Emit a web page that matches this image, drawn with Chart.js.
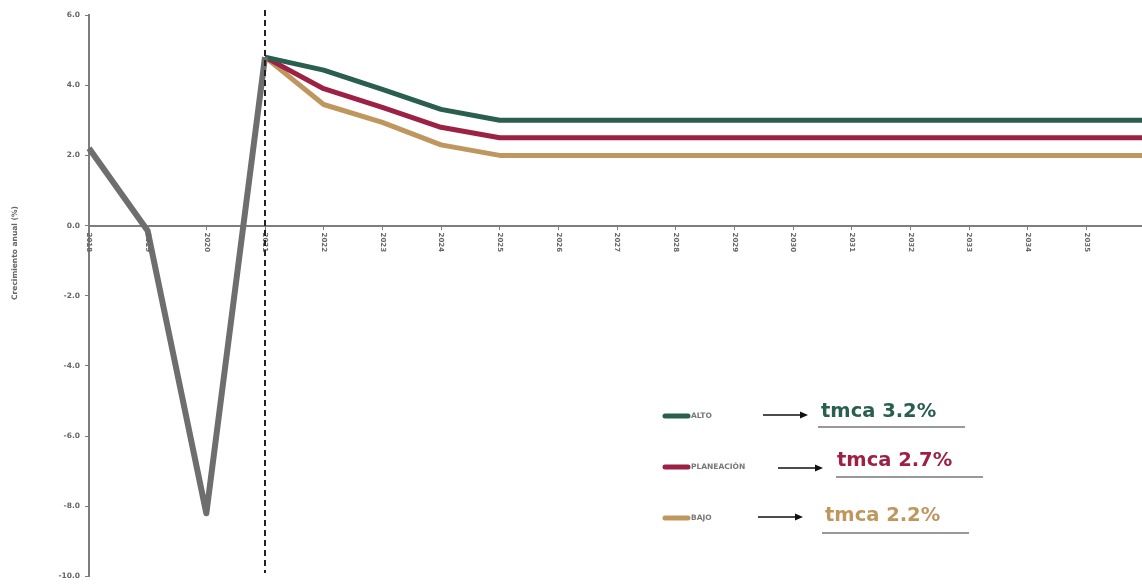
<!DOCTYPE html>
<html>
<head>
<meta charset="utf-8">
<script src="https://cdn.jsdelivr.net/npm/chart.js@4.4.1/dist/chart.umd.min.js"></script>
<style>
  html, body { margin: 0; padding: 0; background: #fff; overflow: hidden; }
  #wrap { width: 1160px; height: 586px; position: relative; }
</style>
</head>
<body>
<div id="wrap"><canvas id="Chart1"></canvas></div>
<script>
// years on the x axis
const years = ['2018', '2019', '2020', '2021', '2022', '2023', '2024', '2025', '2026', '2027',
    '2028', '2029', '2030', '2031', '2032', '2033', '2034', '2035', '2036'];
// observed growth
const historico = [2.2, -0.15, -8.2, 4.8, null, null, null, null, null, null,
    null, null, null, null, null, null, null, null, null];
// scenarios
const alto = [null, null, null, 4.8, 4.43, 3.88, 3.31, 3.0, 3.0, 3.0,
    3.0, 3.0, 3.0, 3.0, 3.0, 3.0, 3.0, 3.0, 3.0];
const planeacion = [null, null, null, 4.8, 3.9, 3.37, 2.8, 2.5, 2.5, 2.5,
    2.5, 2.5, 2.5, 2.5, 2.5, 2.5, 2.5, 2.5, 2.5];
const bajo = [null, null, null, 4.8, 3.45, 2.94, 2.3, 2.0, 2.0, 2.0,
    2.0, 2.0, 2.0, 2.0, 2.0, 2.0, 2.0, 2.0, 2.0];
const yTicks = [6, 4, 2, 0, -2, -4, -6, -8, -10];
const tmca = ['tmca 3.2%', 'tmca 2.7%', 'tmca 2.2%'];
const scenarioNames = ['ALTO', 'PLANEACIÓN', 'BAJO'];
const splitYear = '2021';

const GREEN = '#2a5f4f';
const RED = '#9c2145';
const GOLD = '#bf975e';
const GREY = '#6e6e6e';
const AXIS = '#7d7d7d';

// vertical dashed line, rotated year labels, y title
const extras = {
    id: 'extras',
    afterDatasetsDraw(chart) {
        const ctx = chart.ctx;
        const x = chart.scales.x;
        const y = chart.scales.y;
        const y0 = y.getPixelForValue(0);

        ctx.save();
        // year labels, reading downwards
        ctx.fillStyle = '#666';
        ctx.font = 'bold 7px "DejaVu Sans"';
        ctx.textAlign = 'left';
        ctx.textBaseline = 'middle';
        years.forEach((yr, i) => {
            ctx.save();
            ctx.translate(x.getPixelForValue(i), y0 + 7);
            ctx.rotate(Math.PI / 2);
            ctx.fillText(yr, 0, 0);
            ctx.restore();
        });

        // split line
        const xs = x.getPixelForValue(years.indexOf(splitYear));
        ctx.strokeStyle = '#222';
        ctx.lineWidth = 2;
        ctx.setLineDash([6, 4]);
        ctx.beginPath();
        ctx.moveTo(xs, 10);
        ctx.lineTo(xs, 573);
        ctx.stroke();
        ctx.setLineDash([]);

        // y title
        ctx.save();
        ctx.translate(15, 253);
        ctx.rotate(-Math.PI / 2);
        ctx.textAlign = 'center';
        ctx.textBaseline = 'middle';
        ctx.fillStyle = '#666';
        ctx.font = 'bold 7.5px "DejaVu Sans"';
        ctx.fillText('Crecimiento anual (%)', 0, 0);
        ctx.restore();
        ctx.restore();
    }
};

// legend block with arrows and tmca notes
const notes = {
    id: 'notes',
    afterDraw(chart) {
        const ctx = chart.ctx;
        const colors = [GREEN, RED, GOLD];
        const rows = [
            {ly: 416, ax: 763, ay: 415, tx: 821, ty: 412, ux: 818, uy: 427},
            {ly: 467, ax: 778, ay: 468, tx: 837, ty: 461, ux: 836, uy: 477},
            {ly: 518, ax: 758, ay: 517, tx: 825, ty: 516, ux: 822, uy: 533},
        ];
        ctx.save();
        rows.forEach((r, i) => {
            ctx.strokeStyle = colors[i];
            ctx.lineWidth = 5;
            ctx.lineCap = 'round';
            ctx.beginPath();
            ctx.moveTo(665, r.ly);
            ctx.lineTo(688, r.ly);
            ctx.stroke();
            ctx.lineCap = 'butt';

            ctx.fillStyle = '#777';
            ctx.font = 'bold 7.5px "DejaVu Sans"';
            ctx.textAlign = 'left';
            ctx.textBaseline = 'middle';
            ctx.fillText(scenarioNames[i], 691, r.ly + 0.5);

            // arrow
            ctx.strokeStyle = '#111';
            ctx.fillStyle = '#111';
            ctx.lineWidth = 1.3;
            ctx.beginPath();
            ctx.moveTo(r.ax, r.ay);
            ctx.lineTo(r.ax + 38, r.ay);
            ctx.stroke();
            ctx.beginPath();
            ctx.moveTo(r.ax + 45, r.ay);
            ctx.lineTo(r.ax + 37, r.ay - 3.5);
            ctx.lineTo(r.ax + 37, r.ay + 3.5);
            ctx.closePath();
            ctx.fill();

            ctx.fillStyle = colors[i];
            ctx.font = 'bold 19.5px "DejaVu Sans"';
            ctx.fillText(tmca[i], r.tx, r.ty);

            ctx.strokeStyle = '#777';
            ctx.lineWidth = 1.5;
            ctx.beginPath();
            ctx.moveTo(r.ux, r.uy);
            ctx.lineTo(r.ux + 147, r.uy);
            ctx.stroke();
        });
        ctx.restore();
    }
};

const lineDs = (data, color, width) => ({
    data: data,
    borderColor: color,
    backgroundColor: color,
    borderWidth: width,
    borderJoinStyle: 'round',
    pointRadius: 0,
    tension: 0,
    spanGaps: false,
    fill: false,
});

const ctx1 = document.getElementById('Chart1').getContext('2d');
const chart1 = new Chart(ctx1, {
    type: 'line',
    data: {
        labels: years,
        datasets: [
            lineDs(historico, GREY, 6),
            lineDs(alto, GREEN, 5),
            lineDs(planeacion, RED, 5),
            lineDs(bajo, GOLD, 5),
        ],
    },
    options: {
        responsive: true,
        maintainAspectRatio: false,
        animation: false,
        layout: {
            padding: {top: 15, right: 15, bottom: 6, left: 0},
        },
        plugins: {
            legend: {display: false},
            tooltip: {enabled: false},
        },
        scales: {
            x: {
                position: {y: 0},
                offset: false,
                grid: {
                    display: true,
                    drawOnChartArea: false,
                    drawTicks: true,
                    tickLength: 3,
                    color: AXIS,
                },
                border: {display: true, color: AXIS, width: 2},
                ticks: {display: false},
            },
            y: {
                min: -10,
                max: 6,
                afterFit: (scale) => { scale.width = 89; },
                afterBuildTicks: (scale) => {
                    scale.ticks = yTicks.map(v => ({value: v}));
                },
                grid: {
                    display: true,
                    drawOnChartArea: false,
                    drawTicks: true,
                    tickLength: 4,
                    color: AXIS,
                },
                border: {display: true, color: AXIS, width: 2},
                ticks: {
                    padding: 5,
                    color: '#666',
                    font: {family: 'DejaVu Sans', size: 7.5, weight: 'bold'},
                    callback: (v) => Number(v).toFixed(1),
                },
            },
        },
    },
    plugins: [extras, notes],
});
</script>
</body>
</html>
